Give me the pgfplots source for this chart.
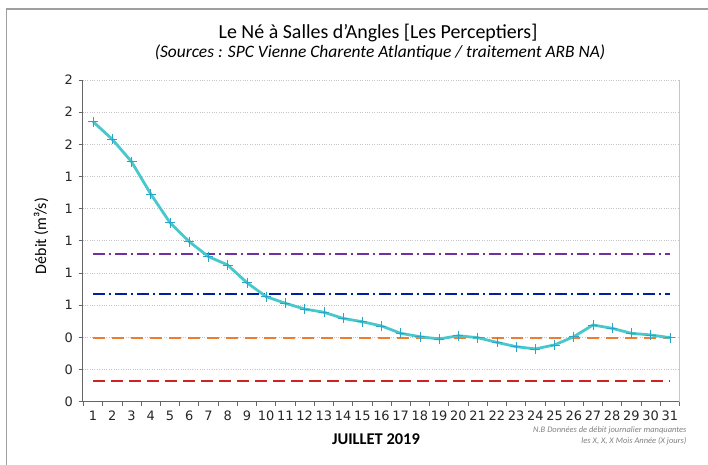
\documentclass[border=0pt]{standalone}
\usepackage{fontspec}
\setmainfont{Carlito}
\newfontfamily\tickfont{DejaVu Sans}
\usepackage{pgfplots}
\pgfplotsset{compat=1.18}
\definecolor{linecol}{RGB}{72,200,204}
\definecolor{markcol}{RGB}{40,165,200}
\definecolor{purp}{RGB}{112,48,160}
\definecolor{dblue}{RGB}{0,32,160}
\definecolor{orng}{RGB}{237,125,49}
\definecolor{rd}{RGB}{205,35,35}
\begin{document}
\begin{tikzpicture}[x=1bp,y=1bp]
\useasboundingbox (0,0) rectangle (708,465);
\draw[gray!75, line width=1.5bp] (6.5,0) -- (6.5,456) -- (708,456);
\begin{axis}[
  at={(82.5bp,63.3bp)}, anchor=south west, scale only axis,
  width=597bp, height=321.7bp,
  xmin=0.45, xmax=31.5, ymin=0, ymax=2,
  axis lines=left, axis line style={-, draw=black!60, line width=0.8bp},
  xtick={1,...,31}, major x tick style={draw=none},
  minor xtick={0.5,1.5,...,31.5},
  ytick={0,0.2,0.4,0.6,0.8,1,1.2,1.4,1.6,1.8,2},
  yticklabels={0,0,0,1,1,1,1,1,2,2,2},
  tick align=outside, major tick length=4bp, minor tick length=4bp,
  tick style={draw=black!60, line width=0.7bp},
  /pgf/number format/assume math mode=true,
  ticklabel style={font=\tickfont\fontsize{13}{15}\selectfont, text=black!85},
  xticklabel style={yshift=-1.5bp},
  yticklabel style={xshift=-2bp},
  ymajorgrids, grid style={gray!45, dotted, line width=0.7bp},
  clip=false,
]
\draw[gray!45, line width=1bp] (rel axis cs:1,0) -- (rel axis cs:1,1);
\addplot[purp, line width=1.8bp, dash pattern=on 12bp off 4bp on 2bp off 4bp] coordinates {(1,0.918) (31,0.918)};
\addplot[dblue, line width=1.8bp, dash pattern=on 12bp off 4bp on 2bp off 4bp] coordinates {(1,0.670) (31,0.670)};
\addplot[orng, line width=1.8bp, dash pattern=on 12bp off 7bp] coordinates {(1,0.398) (31,0.398)};
\addplot[rd, line width=1.8bp, dash pattern=on 12bp off 6bp] coordinates {(1,0.129) (31,0.129)};
\addplot[linecol, line width=2.8bp, mark=+, mark size=5bp,
  mark options={draw=markcol, line width=0.6bp}] coordinates {
(1,1.741) (2,1.631) (3,1.492) (4,1.291) (5,1.113) (6,0.995) (7,0.902) (8,0.850)
(9,0.740) (10,0.653) (11,0.612) (12,0.576) (13,0.556) (14,0.518) (15,0.497)
(16,0.471) (17,0.425) (18,0.404) (19,0.390) (20,0.410) (21,0.398) (22,0.369)
(23,0.342) (24,0.328) (25,0.353) (26,0.404) (27,0.477) (28,0.456) (29,0.425)
(30,0.415) (31,0.398)};
\end{axis}
\node[anchor=base, font=\fontsize{20}{22}\selectfont] at (378,426.5) {Le Né à Salles d'Angles [Les Perceptiers]};
\node[anchor=base, font=\itshape\fontsize{17.5}{19}\selectfont] at (380,407.5) {(Sources : SPC Vienne Charente Atlantique / traitement ARB NA)};
\node[rotate=90, font=\fontsize{16}{18}\selectfont] at (41,229) {Débit (m³/s)};
\node[font=\bfseries\fontsize{16.5}{18}\selectfont] at (376,25.5) {JUILLET 2019};
\node[anchor=base east, font=\itshape\fontsize{8.5}{10}\selectfont, text=black!50] at (690,32) {N.B Données de débit journalier manquantes};
\node[anchor=base east, font=\itshape\fontsize{8.5}{10}\selectfont, text=black!50] at (690,21) {les X, X, X Mois Année (X jours)};
\end{tikzpicture}
\end{document}
